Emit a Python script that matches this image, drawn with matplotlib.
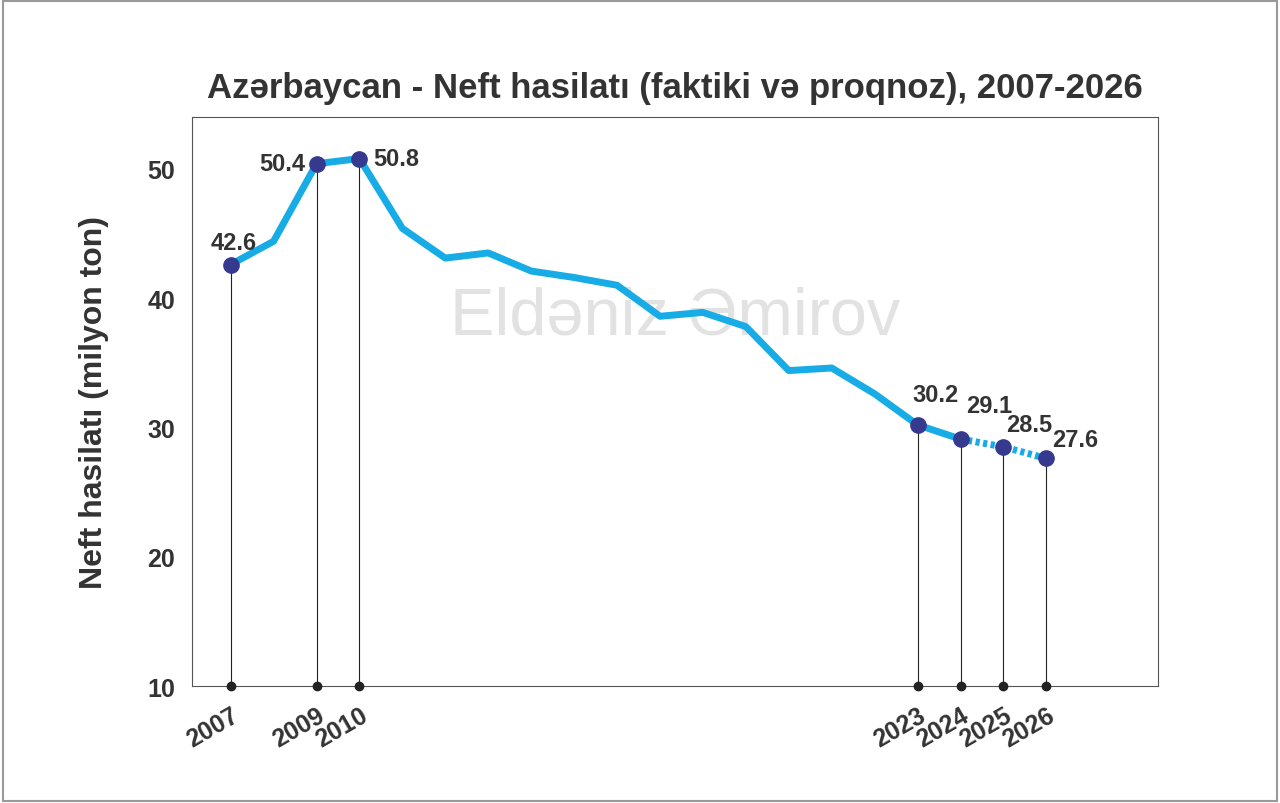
import matplotlib
matplotlib.use("Agg")
import matplotlib.pyplot as plt
from matplotlib.patches import Rectangle

years = list(range(2007, 2027))
values = [42.6, 44.4, 50.4, 50.8, 45.4, 43.1, 43.5, 42.1, 41.6, 41.0, 38.6, 38.9, 37.8, 34.4, 34.6, 32.6, 30.2, 29.1, 28.5, 27.6]
marked_years = [2007, 2009, 2010, 2023, 2024, 2025, 2026]
labels = {2007: "42.6", 2009: "50.4", 2010: "50.8", 2023: "30.2", 2024: "29.1", 2025: "28.5", 2026: "27.6"}
forecast_start = 2024

plt.rcParams['font.family'] = ['Liberation Sans Narrow', 'Liberation Sans', 'DejaVu Sans']
fig = plt.figure(figsize=(12.8, 8.04), dpi=100)
fig.patches.append(Rectangle((0.002, 0.002), 0.996, 0.996, transform=fig.transFigure,
                             fill=False, edgecolor='#999999', lw=1.5))
ax = fig.add_axes([0.15, 0.1455, 0.7547, 0.7075])
line_c = '#17ace6'
dot_c = '#353a8e'
i = years.index(forecast_start)
ax.plot(years[:i+1], values[:i+1], color=line_c, lw=5, solid_capstyle='round', zorder=3)
ax.plot(years[i:], values[i:], color=line_c, lw=5, ls=(0, (0.6, 0.5)), zorder=3)
ax.set_xlim(2006.1, 2028.6)
ax.set_ylim(10, 54)
for y in marked_years:
    v = values[years.index(y)]
    ax.plot([y, y], [10, v], color='#222222', lw=0.8, zorder=2)
    ax.plot(y, v, 'o', color=dot_c, ms=11, zorder=4)
    ax.plot(y, 10, 'o', color='#222222', ms=6, clip_on=False, zorder=4)
offsets = {2007: (2, 16, 'center'), 2009: (-8, 0, 'right'), 2010: (10, 0, 'left'),
           2023: (-4, 22, 'left'), 2024: (4, 24, 'left'), 2025: (2, 16, 'left'), 2026: (4, 14, 'left')}
for y in marked_years:
    v = values[years.index(y)]
    dx, dy, ha = offsets[y]
    ax.annotate(labels[y], (y, v), xytext=(dx, dy), textcoords='offset points', ha=ha, va='center',
                fontsize=17, fontweight='bold', color='#333333', zorder=5)
ax.set_xticks(marked_years)
ax.set_xticklabels([str(y) for y in marked_years], rotation=30, ha='right', fontsize=18,
                   fontweight='bold', color='#333333', rotation_mode='anchor')
ax.tick_params(axis='x', length=0, pad=12)
ax.set_yticks([10, 20, 30, 40, 50])
ax.set_yticklabels(['10', '20', '30', '40', '50'], fontsize=18, fontweight='bold', color='#333333')
ax.tick_params(axis='y', length=0, pad=12)
for s in ax.spines.values():
    s.set_color('#555555'); s.set_linewidth(0.8)
ax.set_ylabel('Neft hasilatı (milyon ton)', fontsize=23, fontweight='bold', color='#333333', labelpad=28)
fig.text(0.527, 0.89, 'Azərbaycan - Neft hasilatı (faktiki və proqnoz), 2007-2026', ha='center', va='center',
         fontsize=25, fontweight='bold', color='#333333')
ax.text(0.5, 0.65, 'Eldəniz Əmirov', transform=ax.transAxes, ha='center', va='center',
        fontsize=48, color='#e2e2e2', family=['Liberation Sans', 'DejaVu Sans'], zorder=1)
fig.savefig('out.png', dpi=100)
